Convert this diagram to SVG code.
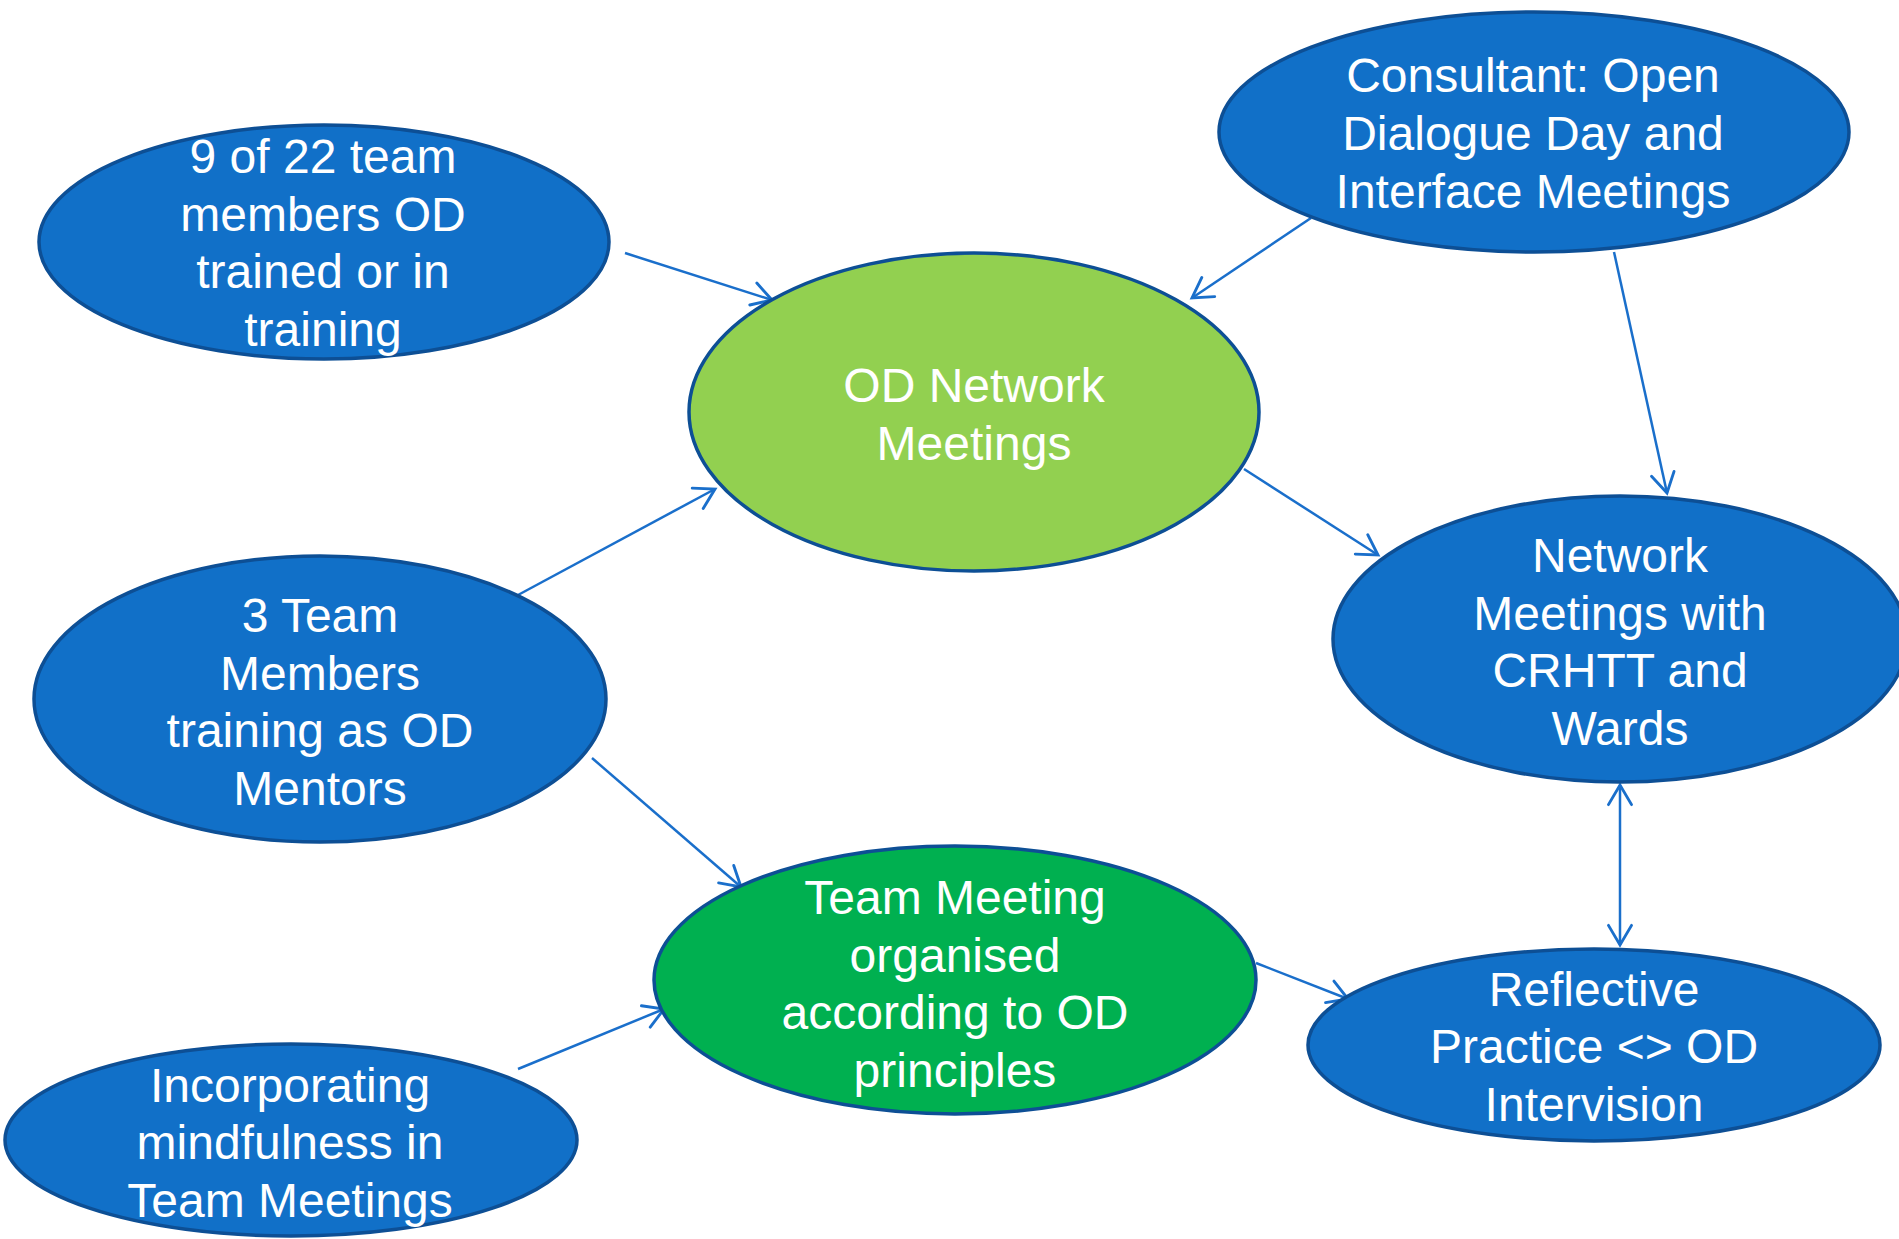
<svg xmlns="http://www.w3.org/2000/svg" width="1899" height="1239" viewBox="0 0 1899 1239">
  <style>
    .node { stroke: #0D4F95; stroke-width: 3.5; }
    .blue { fill: #1170C8; }
    .lime { fill: #92D050; }
    .green { fill: #00B050; }
    .label { font-family: "Liberation Sans", Arial, sans-serif; font-size: 48px; fill: #FFFFFF; text-anchor: middle; }
    .edge { stroke: #1A6FCB; stroke-width: 2.5; fill: none; }
  </style>
  <defs>
    <marker id="arrow" markerUnits="userSpaceOnUse" markerWidth="30" markerHeight="30" viewBox="-20 -13 24 26" refX="0" refY="0" orient="auto-start-reverse">
      <path d="M-17,-10 L0,0 L-17,10" fill="none" stroke="#1A6FCB" stroke-width="2.5" stroke-linecap="round" stroke-linejoin="miter"/>
    </marker>
  </defs>
  <rect width="1899" height="1239" fill="#FFFFFF"/>

  <!-- connectors -->
  <g id="connectors">
    <line class="edge" x1="625" y1="253" x2="772" y2="300" marker-end="url(#arrow)"/>
    <line class="edge" x1="1311" y1="218" x2="1192" y2="298" marker-end="url(#arrow)"/>
    <line class="edge" x1="1614" y1="252" x2="1667" y2="493" marker-end="url(#arrow)"/>
    <line class="edge" x1="1244" y1="469" x2="1378" y2="555" marker-end="url(#arrow)"/>
    <line class="edge" x1="518" y1="595" x2="715" y2="489" marker-end="url(#arrow)"/>
    <line class="edge" x1="592" y1="758" x2="741" y2="887" marker-end="url(#arrow)"/>
    <line class="edge" x1="518" y1="1069" x2="664" y2="1009" marker-end="url(#arrow)"/>
    <line class="edge" x1="1256" y1="963" x2="1348" y2="999" marker-end="url(#arrow)"/>
    <line class="edge" x1="1620" y1="785" x2="1620" y2="945" marker-start="url(#arrow)" marker-end="url(#arrow)"/>
  </g>

  <g id="node-trained">
    <ellipse class="node blue" cx="324" cy="242" rx="285" ry="117"/>
    <text class="label" x="323"><tspan x="323" y="173">9 of 22 team</tspan><tspan x="323" y="231">members OD</tspan><tspan x="323" y="288">trained or in</tspan><tspan x="323" y="346">training</tspan></text>
  </g>

  <g id="node-consultant">
    <ellipse class="node blue" cx="1534" cy="132" rx="315" ry="120"/>
    <text class="label"><tspan x="1533" y="92">Consultant: Open</tspan><tspan x="1533" y="150">Dialogue Day and</tspan><tspan x="1533" y="208">Interface Meetings</tspan></text>
  </g>

  <g id="node-od-network">
    <ellipse class="node lime" cx="974" cy="412" rx="285" ry="159"/>
    <text class="label"><tspan x="974" y="402">OD Network</tspan><tspan x="974" y="460">Meetings</tspan></text>
  </g>

  <g id="node-network-meetings">
    <ellipse class="node blue" cx="1620" cy="639" rx="287" ry="143"/>
    <text class="label"><tspan x="1620" y="572">Network</tspan><tspan x="1620" y="630">Meetings with</tspan><tspan x="1620" y="687">CRHTT and</tspan><tspan x="1620" y="745">Wards</tspan></text>
  </g>

  <g id="node-mentors">
    <ellipse class="node blue" cx="320" cy="699" rx="286" ry="143"/>
    <text class="label"><tspan x="320" y="632">3 Team</tspan><tspan x="320" y="690">Members</tspan><tspan x="320" y="747">training as OD</tspan><tspan x="320" y="805">Mentors</tspan></text>
  </g>

  <g id="node-team-meeting">
    <ellipse class="node green" cx="955" cy="980" rx="301" ry="134"/>
    <text class="label"><tspan x="955" y="914">Team Meeting</tspan><tspan x="955" y="972">organised</tspan><tspan x="955" y="1029">according to OD</tspan><tspan x="955" y="1087">principles</tspan></text>
  </g>

  <g id="node-mindfulness">
    <ellipse class="node blue" cx="291" cy="1140" rx="286" ry="96"/>
    <text class="label"><tspan x="290" y="1102">Incorporating</tspan><tspan x="290" y="1159">mindfulness in</tspan><tspan x="290" y="1217">Team Meetings</tspan></text>
  </g>

  <g id="node-reflective">
    <ellipse class="node blue" cx="1594" cy="1045" rx="286" ry="96"/>
    <text class="label"><tspan x="1594" y="1006">Reflective</tspan><tspan x="1594" y="1063">Practice &lt;&gt; OD</tspan><tspan x="1594" y="1121">Intervision</tspan></text>
  </g>
</svg>
